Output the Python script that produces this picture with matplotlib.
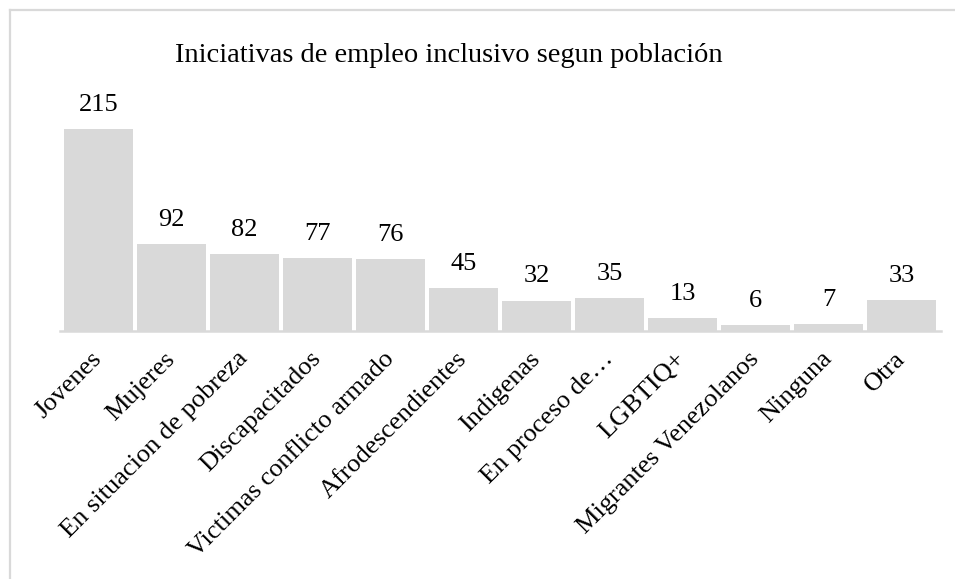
import matplotlib
matplotlib.use("Agg")
import matplotlib.pyplot as plt
from matplotlib.lines import Line2D

plt.rcParams["font.family"] = "Liberation Serif"

categorias = [
    "Jovenes", "Mujeres", "En situacion de pobreza", "Discapacitados",
    "Victimas conflicto armado", "Afrodescendientes", "Indigenas",
    "En proceso de…", "LGBTIQ+", "Migrantes Venezolanos", "Ninguna", "Otra",
]
iniciativas = [215, 92, 82, 77, 76, 45, 32, 35, 13, 6, 7, 33]

titulo = "Iniciativas de empleo inclusivo segun población"

gris = "#d9d9d9"

fig = plt.figure(figsize=(9.55, 5.79), dpi=100)

# axes placed so the baseline sits near the bottom third
ax = fig.add_axes([59.5 / 955, 1 - 330.5 / 579, 881 / 955, 224.6 / 579])
x = range(len(categorias))
bars = ax.bar(x, iniciativas, width=0.936, color=gris, zorder=2)
ax.set_xlim(-0.534, len(categorias) - 0.466)
ax.set_ylim(0, 240)

for b, v in zip(bars, iniciativas):
    ax.annotate(str(v), (b.get_x() + b.get_width() / 2, v),
                xytext=(0, 13), textcoords="offset points",
                ha="center", va="baseline", fontsize=19, color="black")

ax.set_xticks(list(x))
ax.set_xticklabels(categorias, rotation=45, ha="right", va="center",
                   rotation_mode="anchor", fontsize=19)
ax.tick_params(axis="x", length=0, pad=18)
ax.set_yticks([])
for s in ["top", "right", "left"]:
    ax.spines[s].set_visible(False)
ax.spines["bottom"].set_color(gris)
ax.spines["bottom"].set_linewidth(1.8)
ax.set_facecolor("none")

fig.text(449 / 955, 1 - 61.7 / 579, titulo, ha="center", va="baseline",
         fontsize=20.5, color="black")

# chart area frame (only top and left edges show)
fig.add_artist(Line2D([10 / 955, 1], [1 - 10 / 579, 1 - 10 / 579],
                      transform=fig.transFigure, color=gris, lw=1.6))
fig.add_artist(Line2D([10 / 955, 10 / 955], [0, 1 - 10 / 579],
                      transform=fig.transFigure, color=gris, lw=1.6))

fig.savefig("out.png", dpi=100)
